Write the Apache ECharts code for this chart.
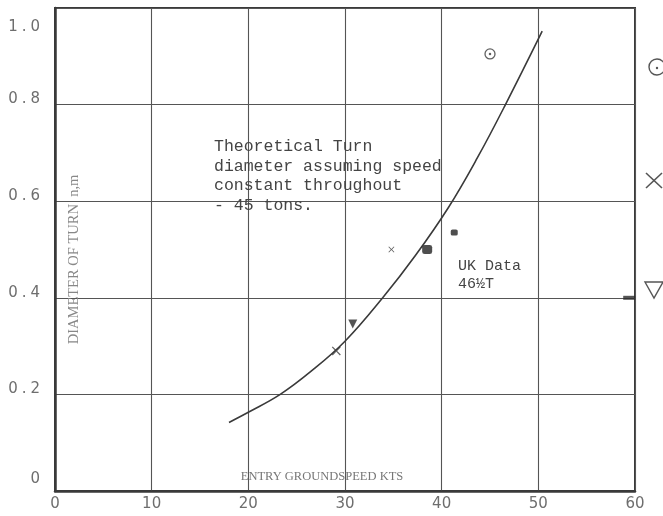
<!DOCTYPE html>
<html>
<head>
<meta charset="utf-8">
<script src="https://cdn.jsdelivr.net/npm/echarts@6/dist/echarts.min.js"></script>
<style>
  html, body { margin: 0; padding: 0; background: #ffffff; }
  #chart { width: 663px; height: 516px; }
</style>
</head>
<body>
<div id="chart"></div>
<script>
// Axis ticks
const speedTicks = [0, 10, 20, 30, 40, 50, 60];
const diameterTicks = [0, 0.2, 0.4, 0.6, 0.8, 1.0];

// Theoretical turn diameter, speed constant throughout, 45 tons
const curveSpeed = [18, 20, 23.3, 26.5, 30, 33.9, 37.3, 40.7, 43.7, 46.6, 50.4];
const curveDiameter = [0.142, 0.163, 0.2, 0.248, 0.31, 0.4, 0.488, 0.587, 0.69, 0.8, 0.952];

// Measured turns
const circleSpeed = [45.0];
const circleDiameter = [0.905];
const crossSpeed = [34.8, 29.1];
const crossDiameter = [0.50, 0.29];
const squareSpeed = [38.5, 41.3];
const squareDiameter = [0.50, 0.535];
const triangleSpeed = [30.8];
const triangleDiameter = [0.346];
const edgeSpeed = [59.4];
const edgeDiameter = [0.40];

const pairs = (xs, ys) => xs.map((x, i) => [x, ys[i]]);

const INK = '#3a3a3a';
const GREY = '#6e6e6e';
const TYPE = '"Liberation Mono", "DejaVu Sans Mono", monospace';
const SERIF = '"Liberation Serif", "DejaVu Serif", serif';
const SANS = '"DejaVu Sans", "Noto Sans", sans-serif';

const crossPath = 'path://M0,1L1,0L5,4L9,0L10,1L6,5L10,9L9,10L5,6L1,10L0,9L4,5Z';
const vPath = 'path://M0,0L10,0L5,10Z';

const chart = echarts.init(document.getElementById('chart'));

// y tick labels: digits with an airy decimal point, nudged off the grid lines
const digit = { fontFamily: SANS, fontSize: 15, color: GREY };
const labelRich = {
  t: Object.assign({ padding: [38, 0, 0, 0] }, digit),
  tp: Object.assign({ padding: [38, 4, 0, 4] }, digit),
  u: Object.assign({ padding: [0, 0, 10, 0] }, digit),
  up: Object.assign({ padding: [0, 4, 10, 4] }, digit),
  z: Object.assign({ padding: [0, 0, 24, 0] }, digit)
};
const yLabel = v => {
  if (v === 0) return '{z|0}';
  const s = v.toFixed(1).split('.');
  const k = v === 1 ? 't' : 'u';
  return '{' + k + '|' + s[0] + '}{' + k + 'p|.}{' + k + '|' + s[1] + '}';
};

chart.setOption({
  backgroundColor: '#ffffff',
  animation: false,
  grid: {
    left: 55, right: 28, top: 8, bottom: 25,
    containLabel: false,
    outerBoundsMode: 'none',
    show: true, borderColor: INK, borderWidth: 2, backgroundColor: 'transparent'
  },
  xAxis: {
    type: 'value',
    min: speedTicks[0],
    max: speedTicks[speedTicks.length - 1],
    interval: speedTicks[1] - speedTicks[0],
    name: 'ENTRY GROUNDSPEED KTS',
    nameLocation: 'middle',
    nameGap: -21,
    nameMoveOverlap: false,
    nameTextStyle: { fontFamily: SERIF, fontSize: 12.5, color: '#777777', padding: [0, 46, 0, 0] },
    axisLine: { show: true, lineStyle: { color: INK, width: 2.5 } },
    axisTick: { show: false },
    axisLabel: { fontFamily: SANS, fontSize: 15, color: GREY, margin: 6 },
    splitLine: { show: true, lineStyle: { color: '#555555', width: 1.1 } }
  },
  yAxis: {
    type: 'value',
    min: diameterTicks[0],
    max: diameterTicks[diameterTicks.length - 1],
    interval: diameterTicks[1] - diameterTicks[0],
    name: 'DIAMETER OF TURN  n,m',
    nameLocation: 'middle',
    nameRotate: 90,
    nameGap: -27,
    nameMoveOverlap: false,
    nameTextStyle: { fontFamily: SERIF, fontSize: 14.5, color: '#888888', padding: [0, 20, 0, 0] },
    axisLine: { show: true, lineStyle: { color: INK, width: 2.5 } },
    axisTick: { show: false },
    axisLabel: { margin: 15, formatter: yLabel, rich: labelRich },
    splitLine: { show: true, lineStyle: { color: '#555555', width: 1.1 } }
  },
  series: [
    {
      type: 'line',
      smooth: 0.4,
      showSymbol: false,
      data: pairs(curveSpeed, curveDiameter),
      lineStyle: { color: INK, width: 1.6 },
      z: 3
    },
    {
      type: 'scatter',
      data: pairs(circleSpeed, circleDiameter),
      symbol: 'circle',
      symbolSize: 10,
      itemStyle: { color: '#ffffff', borderColor: INK, borderWidth: 1.3 },
      z: 4
    },
    {
      type: 'scatter',
      data: pairs(circleSpeed, circleDiameter),
      symbol: 'circle',
      symbolSize: 2.5,
      itemStyle: { color: INK },
      z: 5
    },
    {
      type: 'scatter',
      data: pairs(crossSpeed, crossDiameter),
      symbol: crossPath,
      symbolSize: (v, p) => p.dataIndex === 0 ? 6 : 9,
      itemStyle: { color: INK },
      z: 5
    },
    {
      type: 'scatter',
      data: pairs(squareSpeed, squareDiameter),
      symbol: 'roundRect',
      symbolSize: (v, p) => p.dataIndex === 0 ? [10, 9] : [7, 6],
      itemStyle: { color: '#222222' },
      z: 5
    },
    {
      type: 'scatter',
      data: pairs(triangleSpeed, triangleDiameter),
      symbol: vPath,
      symbolSize: [9, 9],
      itemStyle: { color: '#2a2a2a' },
      z: 5
    },
    {
      type: 'scatter',
      data: pairs(edgeSpeed, edgeDiameter),
      symbol: 'rect',
      symbolSize: [12, 4],
      itemStyle: { color: '#2a2a2a' },
      z: 5
    }
  ],
  graphic: [
    {
      type: 'text', left: 214, top: 137, z: 10,
      style: {
        text: 'Theoretical Turn\ndiameter assuming speed\nconstant throughout\n- 45 tons.',
        font: '16.5px ' + TYPE, fill: '#444444', lineHeight: 19.5
      }
    },
    {
      type: 'text', left: 458, top: 257, z: 10,
      style: { text: 'UK Data\n46½T', font: '15px ' + TYPE, fill: '#444444', lineHeight: 18 }
    },
    // symbol key along the right edge
    { type: 'circle', shape: { cx: 657, cy: 67, r: 8 }, style: { fill: 'none', stroke: '#555555', lineWidth: 1.4 } },
    { type: 'circle', shape: { cx: 657, cy: 68, r: 1.2 }, style: { fill: '#555555' } },
    { type: 'polyline', shape: { points: [[646, 173], [662, 188]] }, style: { stroke: '#555555', lineWidth: 1.6 } },
    { type: 'polyline', shape: { points: [[646, 188], [662, 173]] }, style: { stroke: '#555555', lineWidth: 1.6 } },
    { type: 'polygon', shape: { points: [[645, 282], [663, 282], [654, 298]] }, style: { fill: 'none', stroke: '#555555', lineWidth: 1.4 } }
  ]
});
</script>
</body>
</html>
